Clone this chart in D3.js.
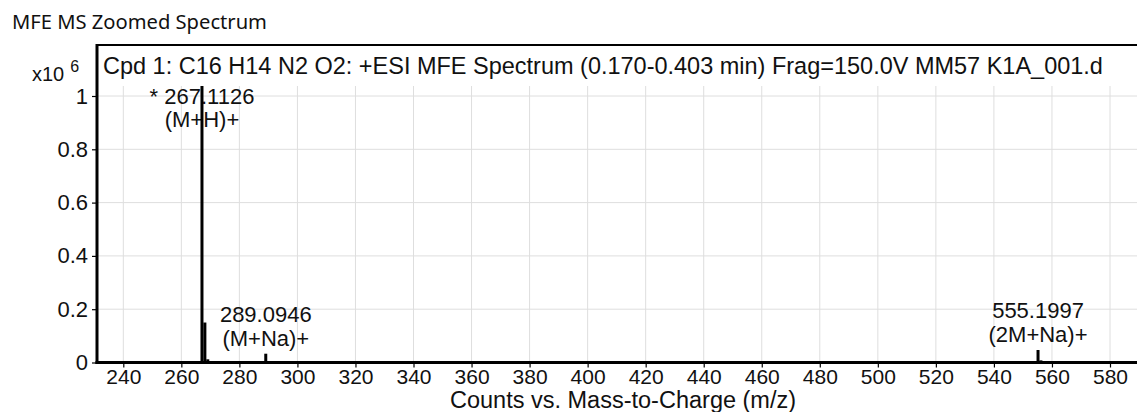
<!DOCTYPE html>
<html>
<head>
<meta charset="utf-8">
<script src="https://cdn.jsdelivr.net/npm/d3@7"></script>
<style>
  html, body { margin: 0; padding: 0; background: #fff; }
  svg { display: block; }
  text { font-family: "Liberation Sans", Arial, sans-serif; fill: #111; }
</style>
</head>
<body>
<svg id="chart" width="1137" height="412"></svg>
<script>
// ---- data ----
const peakMz = [267.11, 268.11, 269.11, 289.09, 555.2, 556.2];
const peakIntensity = [1.0375, 0.150, 0.012, 0.033, 0.047, 0.008]; // x10^6 counts
const labelMz = [267.1126, 289.0946, 555.1997];
const labelIntensity = [1.0375, 0.033, 0.047];
const labelLine1 = ["* 267.1126", "289.0946", "555.1997"];
const labelLine2 = ["(M+H)+", "(M+Na)+", "(2M+Na)+"];
const xTicks = [240, 260, 280, 300, 320, 340, 360, 380, 400, 420, 440, 460, 480, 500, 520, 540, 560, 580];
const yTicks = [0, 0.2, 0.4, 0.6, 0.8, 1];
const titleText = "MFE MS Zoomed Spectrum";
const headerText = "Cpd 1: C16 H14 N2 O2: +ESI MFE Spectrum (0.170-0.403 min) Frag=150.0V MM57 K1A_001.d";
const xAxisTitle = "Counts vs. Mass-to-Charge (m/z)";

// ---- layout ----
const svg = d3.select("#chart");
const left = 98, bottom = 362.5, plotTop = 86, frameTop = 45;
const x = d3.scaleLinear().domain([240, 580]).range([123.3, 1110]);
const y = d3.scaleLinear().domain([0, 1]).range([bottom, 96]);

function fit(sel, target) {
  const node = sel.node();
  const fs = parseFloat(sel.attr("font-size"));
  const w = node.getComputedTextLength();
  sel.attr("font-size", (fs * target / w).toFixed(2));
}

// title
const t = svg.append("text").attr("x", 12).attr("y", 29)
  .attr("font-size", 18).style("font-family", "'Noto Sans', Tahoma, sans-serif")
  .text(titleText);
fit(t, 255);

// grid
svg.append("g").selectAll("line").data(xTicks).join("line")
  .attr("x1", d => x(d)).attr("x2", d => x(d))
  .attr("y1", plotTop).attr("y2", bottom)
  .attr("stroke", "#dedede").attr("stroke-width", 1);
svg.append("g").selectAll("line").data(yTicks.filter(d => d > 0)).join("line")
  .attr("x1", left).attr("x2", 1137)
  .attr("y1", d => y(d)).attr("y2", d => y(d))
  .attr("stroke", "#dedede").attr("stroke-width", 1);

// header inside frame
const h = svg.append("text").attr("x", 103).attr("y", 74)
  .attr("font-size", 20).text(headerText);
fit(h, 1000);

// peak labels (drawn under bars)
const lab = svg.append("g").attr("font-size", 22).attr("text-anchor", "middle");
labelMz.forEach((m, i) => {
  const base2 = Math.max(y(labelIntensity[i]) - 8, 127);
  lab.append("text").attr("x", x(m)).attr("y", base2 - 23.5).text(labelLine1[i]);
  lab.append("text").attr("x", x(m)).attr("y", base2).text(labelLine2[i]);
});

// bars
svg.append("g").selectAll("line").data(peakMz).join("line")
  .attr("x1", d => x(d)).attr("x2", d => x(d))
  .attr("y1", bottom).attr("y2", (d, i) => y(peakIntensity[i]))
  .attr("stroke", "#000").attr("stroke-width", 3);

// x axis
const xAxis = d3.axisBottom(x).tickValues(xTicks).tickSize(5).tickPadding(2).tickFormat(d3.format("d"));
const gx = svg.append("g").attr("transform", `translate(0,${bottom})`).call(xAxis);
gx.select(".domain").remove();
gx.selectAll(".tick line").attr("stroke", "#000").attr("stroke-width", 1.2);
gx.selectAll(".tick text").attr("font-size", 21).attr("fill", "#111")
  .style("font-family", "'Liberation Sans', Arial, sans-serif");

// y axis
const yAxis = d3.axisLeft(y).tickValues(yTicks).tickSize(5).tickPadding(4).tickFormat(d => d === 0 ? "0" : d3.format("")(d));
const gy = svg.append("g").attr("transform", `translate(${left - 1},0)`).call(yAxis);
gy.select(".domain").remove();
gy.selectAll(".tick line").attr("stroke", "#000").attr("stroke-width", 1.2);
gy.selectAll(".tick text").attr("font-size", 22).attr("fill", "#111")
  .style("font-family", "'Liberation Sans', Arial, sans-serif");

// frame lines
svg.append("line").attr("x1", left - 2).attr("x2", 1137).attr("y1", frameTop).attr("y2", frameTop)
  .attr("stroke", "#000").attr("stroke-width", 2);
svg.append("line").attr("x1", left - 1).attr("x2", left - 1).attr("y1", frameTop - 1).attr("y2", bottom + 1.5)
  .attr("stroke", "#000").attr("stroke-width", 3);
svg.append("line").attr("x1", left - 2.5).attr("x2", 1137).attr("y1", bottom).attr("y2", bottom)
  .attr("stroke", "#000").attr("stroke-width", 3);

// scale factor label
const sf = svg.append("text").attr("x", 32).attr("y", 81).attr("font-size", 20);
sf.append("tspan").text("x10");
sf.append("tspan").attr("font-size", 16).attr("dx", 6).attr("dy", -9).text("6");

// x axis title
const xt = svg.append("text").attr("x", 450).attr("y", 408).attr("font-size", 20).text(xAxisTitle);
fit(xt, 346);
</script>
</body>
</html>
